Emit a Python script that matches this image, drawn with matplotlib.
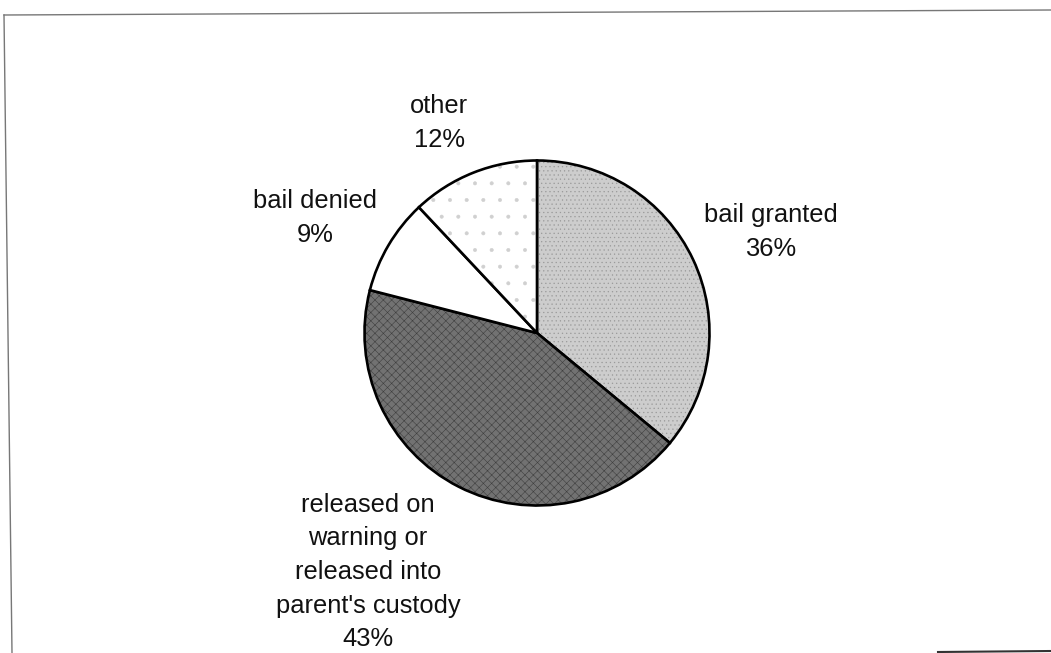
import matplotlib
matplotlib.use("Agg")
from matplotlib import pyplot as plt

labels = ["bail granted", "released on\nwarning or\nreleased into\nparent's custody", "bail denied", "other"]
shares = [36, 43, 9, 12]

colors = ["#cdcdcd", "#727272", "#ffffff", "#ffffff"]
hatches = ["....", "xxxx", "", "."]
hatch_colors = ["#9a9a9a", "#3f3f3f", "#ffffff", "#d0d0d0"]
# label anchor (pixel coords from top-left, centre of text block)
label_pos = [(771, 232), (368, 572), (315, 218), (439, 123)]

W, H = 1051, 653

plt.rcParams['font.family'] = ['Liberation Sans', 'DejaVu Sans']
plt.rcParams['hatch.linewidth'] = 0.4

dpi = 100
fig = plt.figure(figsize=(W / dpi, H / dpi), dpi=dpi)
ax = fig.add_axes([0, 0, 1, 1])

wedges, _ = ax.pie(shares, startangle=90, counterclock=False,
                   center=(537, H - 333), radius=172.5, colors=colors,
                   wedgeprops=dict(edgecolor="black", linewidth=1.9),
                   frame=True)
for w, h, hc in zip(wedges, hatches, hatch_colors):
    if h:
        w.set_hatch(h)
        w._hatch_color = matplotlib.colors.to_rgba(hc)

for (x, y), lab, s in zip(label_pos, labels, shares):
    ax.text(x, H - y, "{}\n{}%".format(lab, s), ha="center", va="center",
            fontsize=18.4, linespacing=1.5, color="#111111")

# scanned page frame
ax.plot([4, 12], [H - 15, 0], color="#777777", lw=1)
ax.plot([4, W], [H - 15, H - 10], color="#777777", lw=1)
ax.plot([938, W], [1, 2], color="#333333", lw=1.5)

ax.set_xlim(0, W)
ax.set_ylim(0, H)
ax.set_aspect("equal")
ax.axis("off")

fig.savefig("out.png", dpi=dpi)
